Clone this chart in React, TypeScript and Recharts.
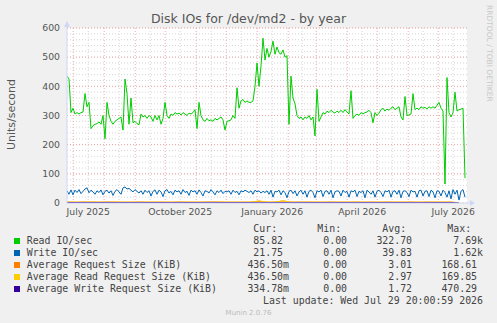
import { LineChart, Line, XAxis, YAxis, CartesianGrid, ReferenceLine } from "recharts";

// one sample every 2 days, day 0 = left edge of the 400-day window
const READ_IO = [
  435, 425, 310, 325, 305, 310, 305, 310, 312, 375, 330, 345, 255, 265, 270, 272, 278, 270, 300, 220,
  345, 300, 280, 270, 280, 285, 290, 295, 250, 425, 375, 270, 360, 275, 280, 272, 268, 305, 295, 300,
  290, 300, 295, 280, 300, 285, 300, 270, 290, 345, 300, 290, 305, 300, 310, 305, 308, 302, 310, 305,
  300, 308, 305, 310, 320, 255, 345, 300, 285, 280, 290, 282, 285, 280, 290, 285, 290, 295, 285, 250,
  280, 282, 285, 300, 290, 395, 325, 350, 355, 345, 350, 345, 345, 350, 400, 480, 400, 470, 565, 490,
  530, 500, 520, 555, 510, 535, 515, 510, 525, 500, 505, 270, 435, 360, 340, 300, 290, 295, 285, 295,
  290, 300, 285, 295, 230, 390, 280, 295, 310, 305, 315, 310, 318, 312, 308, 315, 310, 318, 310, 320,
  312, 305, 385, 290, 300, 305, 300, 310, 305, 310, 312, 318, 310, 275, 310, 300, 308, 320, 325, 315,
  322, 318, 325, 330, 320, 325, 330, 295, 285, 365, 300, 302, 305, 375, 320, 325, 320, 330, 325, 328,
  322, 330, 325, 330, 325, 335, 345, 325, 315, 65, 430, 310, 295, 310, 380, 315, 320, 322, 325, 85,
];

const WRITE_IO = [
  42, 30, 45, 28, 44, 36, 46, 32, 40, 48, 52, 35, 44, 38, 30, 42, 36, 45, 28, 40,
  44, 34, 42, 26, 40, 46, 38, 30, 52, 55, 48, 50, 44, 38, 46, 40, 34, 42, 30, 44,
  36, 42, 24, 40, 45, 30, 44, 38, 22, 42, 46, 34, 40, 28, 44, 38, 42, 30, 46, 36,
  40, 26, 44, 38, 42, 30, 45, 36, 24, 42, 40, 34, 46, 38, 28, 42, 36, 44, 32, 40,
  38, 42, 30, 44, 36, 40, 28, 42, 38, 44, 40, 36, 42, 30, 44, 38, 42, 34, 40, 36,
  42, 30, 44, 20, 40, 38, 44, 28, 42, 36, 18, 40, 44, 32, 42, 24, 38, 44, 30, 42,
  20, 40, 44, 36, 18, 42, 38, 44, 22, 40, 42, 30, 44, 18, 38, 42, 40, 24, 44, 36,
  40, 20, 42, 38, 44, 22, 40, 36, 42, 18, 44, 38, 30, 42, 20, 40, 44, 36, 22, 42,
  38, 44, 20, 40, 42, 30, 44, 18, 40, 42, 36, 22, 44, 38, 40, 20, 42, 44, 24, 40,
  42, 22, 44, 38, 18, 42, 40, 24, 44, 36, 20, 42, 14, 46, 30, 44, 10, 40, 46, 20,
];

// request sizes, one sample every 8 days
const AVG_REQ = [
  3.2, 2.8, 3.0, 3.4, 2.9, 3.1, 3.3, 2.7, 3.0, 3.2, 2.9, 3.1, 3.0, 2.8, 3.3, 3.1, 2.9, 3.0, 3.2, 3.4,
  3.0, 2.8, 3.1, 2.9, 6.5, 3.0, 3.2, 7.0, 3.1, 2.9, 3.0, 3.2, 2.8, 3.1, 3.0, 2.9, 3.3, 3.0, 2.8, 3.1,
  3.2, 2.9, 3.0, 3.1, 2.8, 3.0, 3.2, 2.9, 3.1, 0.9,
];
const AVG_READ_REQ = [
  3.1, 2.9, 3.2, 3.3, 2.8, 3.0, 3.4, 2.8, 3.1, 3.0, 3.0, 3.2, 2.9, 2.9, 3.2, 3.0, 3.0, 3.1, 3.1, 3.3,
  2.9, 2.9, 3.0, 3.0, 6.8, 3.1, 3.1, 7.2, 3.0, 3.0, 3.1, 3.1, 2.9, 3.0, 3.1, 3.0, 3.2, 2.9, 2.9, 3.0,
  3.1, 3.0, 3.1, 3.0, 2.9, 3.1, 3.1, 3.0, 3.0, 0.9,
];
const AVG_WRITE_REQ = [
  1.8, 1.5, 1.9, 1.6, 1.7, 2.0, 1.5, 1.8, 1.6, 1.9, 1.7, 1.6, 1.8, 1.5, 1.9, 1.7, 1.6, 1.8, 2.0, 1.7,
  1.6, 1.8, 1.5, 1.7, 1.9, 1.6, 1.8, 1.7, 1.5, 1.9, 1.8, 1.6, 1.7, 1.9, 1.6, 1.8, 1.5, 1.7, 1.9, 1.6,
  1.8, 1.7, 1.6, 1.9, 1.5, 1.8, 1.7, 1.6, 1.8, 0.3,
];

const DAYS = READ_IO.map((_, i) => i * 2);

// day numbers of month starts, mid-months and the quarter labels
const MONTH_STARTS = [6.2, 37.2, 68.2, 98.2, 129.2, 159.2, 190.2, 221.2, 249.2, 280.2, 310.2, 341.2, 371.2];
const MID_MONTHS = [21.2, 52.2, 83.2, 113.2, 144.2, 174.2, 205.2, 235.2, 264.2, 295.2, 325.2, 356.2, 386.2];
const X_LABEL_DAYS = [21.2, 113.2, 205.2, 295.2, 386.2];
const X_LABELS = ["July 2025", "October 2025", "January 2026", "April 2026", "July 2026"];

const Y_TICKS = Array.from({ length: 31 }, (_, i) => i * 20);
const Y_MAJOR = [100, 200, 300, 400, 500, 600];

const LEGEND = [
  { color: "#00CC00", label: "Read IO/sec", cur: "85.82 ", min: "0.00 ", avg: "322.70 ", max: "7.69k" },
  { color: "#0066B3", label: "Write IO/sec", cur: "21.75 ", min: "0.00 ", avg: "39.83 ", max: "1.62k" },
  { color: "#FF8000", label: "Average Request Size (KiB)", cur: "436.50m", min: "0.00 ", avg: "3.01 ", max: "168.61 " },
  { color: "#FFCC00", label: "Average Read Request Size (KiB)", cur: "436.50m", min: "0.00 ", avg: "2.97 ", max: "169.85 " },
  { color: "#330099", label: "Average Write Request Size (KiB)", cur: "334.78m", min: "0.00 ", avg: "1.72 ", max: "470.29 " },
];

const W = 497;
const H = 323;
const COLS = [289, 353, 418, 483];
const MONO = "'DejaVu Sans Mono', monospace";
const SANS = "'DejaVu Sans', sans-serif";
const GRID = "#d6d6d6";
const MGRID = "#f0a8a8";
const AXIS = "#CFD6F8";

function Cell({ right, top, text }: { right: number; top: number; text: string }) {
  return (
    <div style={{ position: "absolute", right: W - right, top, whiteSpace: "pre" }}>{text}</div>
  );
}

export default function App() {
  const data = DAYS.map((day, i) => {
    const row: Record<string, number | null> = { day, read: READ_IO[i], write: WRITE_IO[i] };
    if (day % 8 === 0) {
      const j = day / 8;
      row.avg = AVG_REQ[j];
      row.avgRead = AVG_READ_REQ[j];
      row.avgWrite = AVG_WRITE_REQ[j];
    }
    return row;
  });

  const rowTop = (k: number) => 222.5 + k * 12;

  return (
    <div
      style={{
        position: "fixed",
        left: 0,
        top: 0,
        width: W,
        height: H,
        background: "#F0F0F0",
        overflow: "hidden",
      }}
    >
      <LineChart width={W} height={H} data={data} margin={{ top: 28, right: 30, left: 0, bottom: 90 }}>
        <CartesianGrid fill="#FFFFFF" stroke={GRID} strokeDasharray="1 2" vertical={false} />
        {MID_MONTHS.map((d) => (
          <ReferenceLine key={`mm${d}`} x={d} stroke={GRID} strokeDasharray="1 2" />
        ))}
        {MONTH_STARTS.map((d) => (
          <ReferenceLine key={`ms${d}`} x={d} stroke={MGRID} strokeDasharray="1 2" />
        ))}
        {Y_MAJOR.map((v) => (
          <ReferenceLine key={`y${v}`} y={v} stroke={MGRID} strokeDasharray="1 2" />
        ))}
        <XAxis
          type="number"
          dataKey="day"
          domain={[0, 400]}
          ticks={X_LABEL_DAYS}
          interval={0}
          height={30}
          tickFormatter={(v: number) => X_LABELS[X_LABEL_DAYS.indexOf(v)] ?? ""}
          tick={{ fill: "#555", fontSize: 9.3, fontFamily: SANS }}
          tickLine={false}
          tickSize={0}
          tickMargin={5}
          axisLine={{ stroke: AXIS }}
          allowDataOverflow
        />
        <YAxis
          type="number"
          domain={[0, 600]}
          ticks={Y_TICKS}
          interval={0}
          width={67}
          tickFormatter={(v: number) => (v % 100 === 0 ? String(v) : "")}
          tick={{ fill: "#555", fontSize: 9.3, fontFamily: SANS }}
          tickLine={false}
          tickSize={0}
          tickMargin={7}
          axisLine={{ stroke: AXIS }}
          allowDataOverflow
        />
        <Line dataKey="read" stroke="#00CC00" strokeWidth={1} dot={false} isAnimationActive={false} />
        <Line dataKey="write" stroke="#0066B3" strokeWidth={1} dot={false} isAnimationActive={false} />
        <Line dataKey="avg" stroke="#FF8000" strokeWidth={1} dot={false} connectNulls isAnimationActive={false} />
        <Line dataKey="avgRead" stroke="#FFCC00" strokeWidth={1} dot={false} connectNulls isAnimationActive={false} />
        <Line dataKey="avgWrite" stroke="#330099" strokeWidth={1} dot={false} connectNulls isAnimationActive={false} />
      </LineChart>

      <svg width={W} height={H} style={{ position: "absolute", left: 0, top: 0, pointerEvents: "none" }}>
        <text x={248.5} y={23} textAnchor="middle" fontFamily={SANS} fontSize={12.5} fill="#555">
          Disk IOs for /dev/md2 - by year
        </text>
        <text
          transform="translate(14.5 114.5) rotate(-90)"
          textAnchor="middle"
          fontFamily={SANS}
          fontSize={11}
          fill="#555"
        >
          Units/second
        </text>
        <text
          transform="translate(487 5) rotate(90)"
          fontFamily={SANS}
          fontSize={7.5}
          fill="#c8c8c8"
        >
          RRDTOOL / TOBI OETIKER
        </text>
        <line x1={67} y1={28} x2={67} y2={22} stroke={AXIS} />
        <polygon points="64,27 70,27 67,21" fill={AXIS} />
        <line x1={467} y1={203} x2={471} y2={203} stroke={AXIS} />
        <polygon points="470,200 470,206 475,203" fill={AXIS} />
        <text x={248.5} y={314.5} textAnchor="middle" fontFamily={SANS} fontSize={7} fill="#bbb">
          Munin 2.0.76
        </text>
      </svg>

      <div style={{ position: "absolute", left: 0, top: 0, width: W, height: H, fontFamily: MONO, fontSize: 9.9, lineHeight: "12px", color: "#444" }}>
        <Cell right={COLS[0]} top={rowTop(0)} text="Cur:  " />
        <Cell right={COLS[1]} top={rowTop(0)} text="Min:  " />
        <Cell right={COLS[2]} top={rowTop(0)} text="Avg:  " />
        <Cell right={COLS[3]} top={rowTop(0)} text="Max:  " />
        {LEGEND.map((s, k) => (
          <div key={s.label}>
            <div
              style={{
                position: "absolute",
                left: 14,
                top: rowTop(k + 1) + 3.5,
                width: 6,
                height: 6,
                background: s.color,
              }}
            />
            <div style={{ position: "absolute", left: 26.7, top: rowTop(k + 1), whiteSpace: "pre" }}>{s.label}</div>
            <Cell right={COLS[0]} top={rowTop(k + 1)} text={s.cur} />
            <Cell right={COLS[1]} top={rowTop(k + 1)} text={s.min} />
            <Cell right={COLS[2]} top={rowTop(k + 1)} text={s.avg} />
            <Cell right={COLS[3]} top={rowTop(k + 1)} text={s.max} />
          </div>
        ))}
        <Cell right={483} top={rowTop(6)} text="Last update: Wed Jul 29 20:00:59 2026" />
      </div>
    </div>
  );
}
